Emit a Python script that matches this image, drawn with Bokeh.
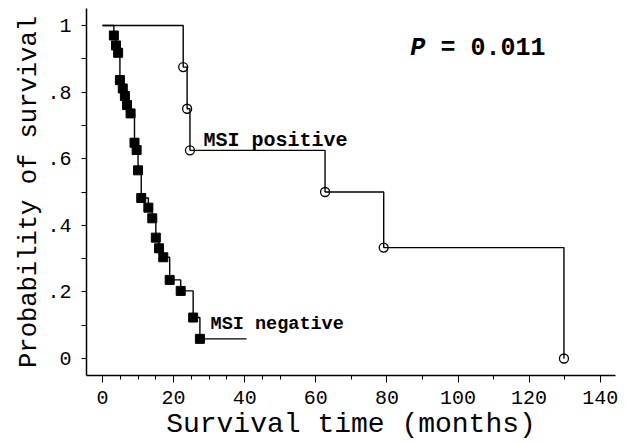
from bokeh.plotting import figure
from bokeh.embed import file_html
from bokeh.resources import INLINE
from bokeh.models import Range1d, FixedTicker
from bokeh.core.properties import value

# ---- data ----
neg_times = [3.2, 3.8, 4.4, 4.9, 5.7, 6.3, 6.9, 7.9, 9.0, 9.6, 10.0, 10.9,
             12.9, 14.0, 15.0, 15.9, 17.1, 18.9, 22.0, 25.5, 27.4]
neg_surv = [0.970, 0.940, 0.918, 0.836, 0.811, 0.788, 0.761, 0.736, 0.648, 0.626,
            0.565, 0.482, 0.453, 0.421, 0.363, 0.331, 0.304, 0.236, 0.203, 0.123, 0.059]
neg_followup_end = 40.5

pos_times = [22.7, 23.8, 24.6, 62.6, 79.1, 129.8]
pos_surv = [0.875, 0.750, 0.625, 0.500, 0.333, 0.0]

x_ticks = [0, 20, 40, 60, 80, 100, 120, 140]
x_minor = [5, 10, 15, 25, 30, 35, 45, 50, 70, 90, 110, 130]
y_ticks = [0, 0.2, 0.4, 0.6, 0.8, 1.0]
y_tick_labels = ["0", ".2", ".4", ".6", ".8", "1"]
y_minor = [0.1, 0.3, 0.5, 0.7, 0.9]

x_title = "Survival time (months)"
y_title = "Probability of survival"

FONT = "Liberation Mono"

p = figure(width=625, height=442, output_backend="svg", toolbar_location=None,
           x_range=Range1d(-4.5, 144.3), y_range=Range1d(-0.051, 1.051),
           min_border_left=86, min_border_right=10, min_border_top=8, min_border_bottom=65)
p.outline_line_color = None
p.grid.visible = False
p.background_fill_color = "white"
p.border_fill_color = "white"

# step curves
nx = [0] + neg_times + [neg_followup_end]
ny = [1.0] + neg_surv + [neg_surv[-1]]
p.step(nx, ny, mode="after", line_color="black", line_width=1.4)
px = [0] + pos_times
py = [1.0] + pos_surv
p.step(px, py, mode="after", line_color="black", line_width=1.4)

p.scatter(neg_times, neg_surv, marker="square", size=9, fill_color="black", line_color="black")
p.scatter(pos_times, pos_surv, marker="circle", size=9, fill_color=None, line_color="black", line_width=1.3)

# annotations
p.text([28.4], [0.654], text=["MSI positive"], text_font=value(FONT), text_font_style="bold",
       text_font_size="20px", text_baseline="alphabetic", text_color="black")
p.text([30.4], [0.101], text=["MSI negative"], text_font=value(FONT), text_font_style="bold",
       text_font_size="18.5px", text_baseline="alphabetic", text_color="black")
p.text([86.6], [0.931], text=["P"], text_font=value(FONT), text_font_style="bold italic",
       text_font_size="25px", text_baseline="alphabetic", text_color="black")
p.text([95.1], [0.931], text=["= 0.011"], text_font=value(FONT), text_font_style="bold",
       text_font_size="25px", text_baseline="alphabetic", text_color="black")

# axes
xa = p.xaxis[0]
xa.ticker = FixedTicker(ticks=x_ticks, minor_ticks=x_minor)
xa.axis_label = x_title
ya = p.yaxis[0]
ya.ticker = FixedTicker(ticks=y_ticks, minor_ticks=y_minor)
ya.major_label_overrides = {t: l for t, l in zip(y_ticks, y_tick_labels)}
ya.axis_label = y_title

for ax in (xa, ya):
    ax.axis_line_color = "black"
    ax.axis_line_width = 1.5
    ax.major_tick_line_color = "black"
    ax.minor_tick_line_color = "black"
    ax.major_tick_in = 0
    ax.minor_tick_in = 0
    ax.major_label_text_font = FONT
    ax.major_label_text_font_size = "20px"
    ax.major_label_text_color = "black"
    ax.axis_label_text_font = FONT
    ax.axis_label_text_font_style = "normal"
    ax.axis_label_text_color = "black"

xa.major_tick_out = 7
xa.minor_tick_out = 4
xa.major_label_standoff = 8
xa.axis_label_text_font_size = "28px"
xa.axis_label_standoff = 2
ya.major_tick_out = 5
ya.minor_tick_out = 5
ya.major_label_standoff = 10
ya.axis_label_text_font_size = "25.5px"
ya.axis_label_standoff = 0

open("out.html", "w").write(file_html(p, INLINE))
